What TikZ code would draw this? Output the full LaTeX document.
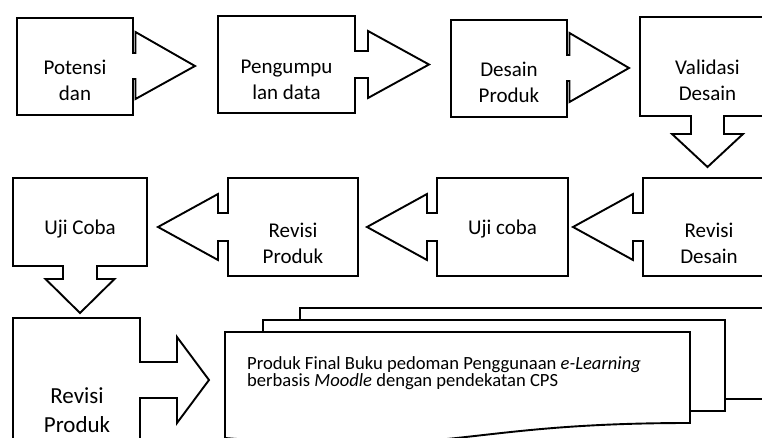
\documentclass[tikz,border=0pt]{standalone}
\usepackage{fontspec}
\setmainfont{Carlito}
\begin{document}
\begin{tikzpicture}[x=1pt,y=-1pt,
  outline/.style={draw=black, line width=1.9pt, line join=miter, fill=white},
  lbl/.style={font=\fontsize{21}{26}\selectfont, align=center, inner sep=0pt, anchor=base},
  lblbig/.style={font=\fontsize{23}{29}\selectfont, align=center, inner sep=0pt, anchor=base},
  doctext/.style={font=\fontsize{18.6}{17}\selectfont, align=left, inner sep=0pt, anchor=base west}]
\useasboundingbox (0,0) rectangle (762,438);
\fill[white] (0,0) rectangle (762,438);
\clip (0,0) rectangle (762,438);
% Row 1 (label coordinates are the baseline of the last line)
\draw[outline] (17,18) -- (133,18) -- (133,53) -- (135.5,53) -- (135.5,32) -- (195,66) -- (135.5,99) -- (135.5,79) -- (133,79) -- (133,115) -- (17,115) -- cycle;
\node[lbl] (potensi) at (75,101) {Potensi\\dan};
\draw[outline] (218,16) -- (355,16) -- (355,51) -- (368,51) -- (368,31) -- (429,64.5) -- (368,98) -- (368,78) -- (355,78) -- (355,113) -- (218,113) -- cycle;
\node[lbl] (pengumpulan) at (286.5,100) {Pengumpu\\lan data};
\draw[outline] (451,20) -- (567,20) -- (567,55) -- (569.5,55) -- (569.5,33) -- (629,68) -- (569.5,102) -- (569.5,81) -- (567,81) -- (567,117) -- (451,117) -- cycle;
\node[lbl] (desain) at (509,103) {Desain\\Produk};
\draw[outline] (640,17) -- (775,17) -- (775,116) -- (724,116) -- (724,134) -- (743,134) -- (707.5,167) -- (672,134) -- (691,134) -- (691,116) -- (640,116) -- cycle;
\node[lbl] (validasi) at (707.5,101) {Validasi\\Desain};
% Row 2
\draw[outline] (775,178) -- (643,178) -- (643,213) -- (633,213) -- (633,194) -- (573,227) -- (633,260) -- (633,241) -- (643,241) -- (643,276) -- (775,276) -- cycle;
\node[lbl] (revdesain) at (709,263) {Revisi\\Desain};
\draw[outline] (568,178) -- (437,178) -- (437,213) -- (427,213) -- (427,194) -- (367,227) -- (427,260) -- (427,241) -- (437,241) -- (437,276) -- (568,276) -- cycle;
\node[lbl] (ujicoba) at (502.5,235) {Uji coba};
\draw[outline] (358,178) -- (228,178) -- (228,213) -- (218,213) -- (218,194) -- (158,227) -- (218,260) -- (218,241) -- (228,241) -- (228,276) -- (358,276) -- cycle;
\node[lbl] (revproduk) at (293,263) {Revisi\\Produk};
\draw[outline] (13,178) -- (147,178) -- (147,266) -- (97,266) -- (97,279) -- (114.5,279) -- (80,313) -- (45.5,279) -- (63,279) -- (63,266) -- (13,266) -- cycle;
\node[lbl] (ujicoba2) at (80,234) {Uji Coba};
% Row 3
\draw[outline] (13,318) -- (140,318) -- (140,362) -- (177,362) -- (177,337) -- (209,380) -- (177,423) -- (177,398) -- (140,398) -- (140,500) -- (13,500) -- cycle;
\node[lblbig] (revproduk2) at (77,432) {Revisi\\Produk};
% Multidocument
\draw[outline] (300,320) -- (300,308) -- (790,308) -- (790,399) -- (725,399);
\draw[outline] (263,332) -- (263,320) -- (725,320) -- (725,411) -- (690,411);
\draw[outline] (225,332) -- (690,332) -- (690,423) .. controls (457.5,423) and (457.5,457.7) .. (225,438) -- cycle;
\node[doctext] (final) at (247,386) {Produk Final Buku pedoman Penggunaan \textit{e-Learning}\\berbasis \textit{Moodle} dengan pendekatan CPS};
\end{tikzpicture}
\end{document}
